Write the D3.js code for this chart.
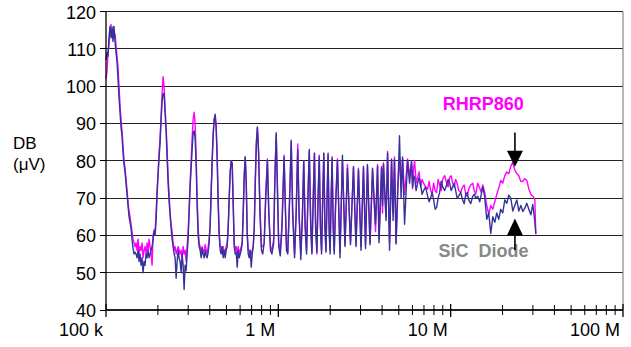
<!DOCTYPE html>
<html lang="en">

<head>
    <meta charset="utf-8">
    <title>EMI spectrum: RHRP860 vs SiC Diode</title>
    <script type="text/javascript" src="https://d3js.org/d3.v7.min.js"></script>

    <style type="text/css">
        body { margin: 0; background: #fff; }
        svg text { font-family: "Liberation Sans", Arial, sans-serif; }
    </style>
</head>

<body>
    <script type="text/javascript">
        // frequency of each sample, kHz (shared by both traces)
        var freqKHz = [
            100.0, 101.4, 102.7, 104.1, 105.5, 106.9, 108.4, 109.8, 111.3, 112.8,
            114.3, 115.9, 117.4, 119.0, 120.6, 122.2, 123.9, 125.6, 127.2, 129.0,
            130.7, 132.5, 134.2, 136.0, 137.9, 139.7, 141.6, 143.5, 145.5, 147.4,
            149.4, 151.4, 153.5, 155.5, 157.6, 159.7, 161.9, 164.1, 166.3, 168.5,
            170.8, 173.1, 175.4, 177.8, 180.2, 182.6, 185.1, 187.6, 190.1, 192.7,
            195.3, 197.9, 200.5, 203.3, 206.0, 208.8, 211.6, 214.4, 217.3, 220.2,
            223.2, 226.2, 229.3, 232.4, 235.5, 238.7, 241.9, 245.1, 248.4, 251.8,
            255.2, 258.6, 262.1,
            265.6, 269.2, 272.8, 276.5, 280.2, 284.0, 287.8, 291.7, 295.6, 299.6,
            303.6, 307.7, 311.9, 316.1, 320.3, 324.7, 329.0, 333.5, 338.0, 342.5,
            347.1, 351.8, 356.6, 361.4, 366.2, 371.2, 376.2, 381.2, 386.4, 391.6,
            396.8, 402.2, 407.6, 413.1, 418.7, 424.3, 430.0, 435.8, 441.7, 447.6,
            453.7, 459.8, 466.0, 472.3, 478.6, 485.1, 491.6, 498.2, 505.0, 511.8,
            518.7, 525.6, 532.7, 539.9, 547.2, 554.6, 562.0, 569.6, 577.3, 585.0,
            592.9, 600.9, 609.0, 617.2, 625.5, 634.0, 642.5, 651.2, 659.9, 668.8,
            677.9, 687.0, 696.2, 705.6, 715.1, 724.8,
            735, 745, 756, 768, 782, 798, 812, 828, 845, 864,
            880, 900, 918, 940, 955, 972, 990, 1005, 1026, 1050,
            1080, 1100, 1115, 1134, 1160, 1188, 1210, 1242, 1270, 1296,
            1320, 1350, 1380, 1404, 1430, 1458, 1485, 1512, 1540, 1566,
            1595, 1620, 1645, 1674, 1700, 1728, 1755, 1782, 1810, 1836,
            1863, 1890, 1918, 1944, 1971, 1998, 2025, 2052, 2080, 2110,
            2150, 2203, 2279, 2355, 2436, 2518, 2622, 2729, 2822, 2917,
            3018, 3119, 3206, 3289, 3404, 3521, 3664, 3764, 3840, 3971,
            4024, 4074, 4217, 4305, 4419, 4539, 4632, 4721, 4821, 4919,
            5047, 5155, 5260, 5402, 5623, 5775, 5929,
            6013, 6094, 6176, 6301, 6428, 6559, 6692, 6828, 6966, 7155,
            7349, 7499, 7651, 7806, 7965, 8126, 8290, 8458, 8630, 8806,
            8985, 9228, 9478, 9670, 9867, 10067, 10270, 10478, 10690, 10908,
            11130, 11431, 11740, 11983, 12230, 12478, 12730, 13075, 13430, 13703,
            13980, 14360, 14750, 15047, 15350,
            15760, 16190, 16630, 17090, 17550, 18030, 18510, 19010, 19530, 20060,
            20610, 21170, 21740, 22330, 22940, 23560, 24200, 24860, 25530, 26220,
            26930, 27660, 28410, 29180, 29970, 30780, 31200
        ];

        // SiC diode trace, dB(uV)
        var sicDb = [
            107, 109, 108, 113, 116, 113, 115.5, 112, 116, 112,
            109, 106.5, 102, 97, 93, 89, 86.5, 82, 79, 77,
            74, 71, 68, 65, 63.5, 62, 59, 56.5, 55, 55.5,
            55, 54, 56, 53, 55, 52, 54, 50, 53, 52,
            55, 54, 56, 54, 55, 56, 57, 59, 61, 60,
            64, 71, 76, 81, 85, 91, 96, 98, 98, 93,
            88, 81, 74, 69, 65.5, 62, 59, 57, 55, 54,
            48.5, 53, 56,
            54, 53, 50, 55, 52, 45.5, 52, 50.5, 55, 59,
            66, 73, 78, 83, 87.5, 88, 86, 79, 68, 60,
            57, 56, 54, 56.5, 55, 54, 56, 54.5, 54, 55.5,
            58, 63, 71, 80, 87, 91, 92.5, 89, 80, 68,
            60, 56, 55, 57, 54, 56, 54, 56, 57, 62,
            70, 77, 80, 79, 68, 57, 55, 55.5, 51.5, 56,
            54, 55, 56, 58, 66, 76, 81, 74, 60, 55,
            54, 56, 51.5, 55, 57, 62,
            74, 84, 89, 82, 66, 56, 55, 58, 70, 80,
            66, 56, 55, 58, 75, 87.5, 70, 57, 54.5, 62,
            81, 66, 56, 55, 68, 85.5, 66, 54, 66, 83,
            65, 53.5, 66, 80, 62, 55, 70, 83, 63, 55,
            70, 82, 62, 55.5, 70, 81, 62, 55, 70, 82,
            62, 55.5, 70, 82, 61, 55, 70, 81, 62, 55,
            68, 80, 54, 81.5, 57, 78, 57.5, 78.5, 57, 77.5,
            56, 78.5, 56.5, 79, 57.5, 78, 63, 78.5, 58, 78,
            68, 79, 64, 82, 56, 80.5, 64, 80.3, 57.7, 69.6,
            86.7, 70, 81, 63, 80, 74, 80,
            73, 76, 75.5, 72, 74, 75.5, 73.5, 71, 72, 73,
            70.5, 69, 70, 71.5, 69.5, 67, 67.5, 70, 71.5, 74.5,
            73, 72, 73.5, 75, 74, 72, 73, 74, 72, 70,
            70.5, 71.5, 69.5, 68.5, 71, 71.5, 69.5, 68.5, 70.5, 71,
            70, 70.5, 69, 71, 73,
            70.4, 64.3, 66, 60.5, 65, 63.5, 66, 64.3, 67, 66,
            69.5, 68.6, 70.8, 70, 66.5, 68, 69.5, 66.5, 68, 66.4,
            67.3, 68.6, 67, 65.5, 68.3, 63.8, 60.3
        ];

        // RHRP860 trace, dB(uV)
        var rhrpDb = [
            102, 104, 109, 111, 115, 116.5, 113, 116, 113, 114,
            111, 108, 105, 100, 95, 91, 88, 84, 80, 78,
            75, 72, 69, 66.5, 65, 63, 61, 59, 58, 57,
            58, 56, 59, 55, 57, 56, 58, 54, 56, 57,
            55, 58, 56, 59, 57, 55, 52, 60, 61.5, 61,
            66, 72, 77, 82, 86, 92, 98, 102.5, 100, 94,
            89, 83, 76, 71, 66, 63, 61, 58, 56, 57,
            55, 56, 57,
            56, 55, 56, 54, 57, 55, 56, 53, 57, 61,
            67, 74, 80, 86, 91, 93, 90, 81, 70, 62,
            58, 57, 56, 57, 55.5, 56, 57.5, 56, 55, 57,
            59, 63, 72, 80, 87, 91, 92, 89, 82, 70,
            61, 57, 57, 56, 57, 55, 56, 57, 58, 62,
            70, 77, 80, 79.5, 69, 58, 56, 57, 55, 57,
            55, 56, 57, 58, 66, 76, 81, 75, 61, 56,
            56, 55, 55, 56, 57, 62,
            75, 85, 89, 83, 68, 57, 57, 58, 71, 80.5,
            67, 57, 56, 59, 76, 87, 72, 58, 56, 63,
            81.5, 67, 57, 55.5, 69, 85, 68, 55, 67, 84.5,
            66, 55, 65, 80, 64, 56, 70, 82.5, 65, 55.5,
            71, 82, 64, 55, 70, 81.5, 63, 56, 71, 82,
            63, 56, 71, 81.5, 63, 56, 70, 80.5, 64, 56,
            69, 80.5, 55.5, 80, 57.5, 79, 58, 78, 57.5, 78,
            57, 78, 57.5, 78.5, 58, 77.5, 61, 79, 59, 78.5,
            66, 79.5, 65, 82.5, 58, 80, 66, 81, 58, 72,
            81, 73, 80.5, 71, 80.5, 76, 79.5,
            72.5, 78, 80, 74, 75.6, 77, 73, 75, 74, 73,
            72.4, 74.5, 72, 71, 74, 72, 71.5, 75, 73.5, 72,
            75, 76, 74, 73, 75.5, 76, 74, 73, 75, 74,
            72, 71.5, 73, 73.5, 71, 70.5, 72.4, 73.5, 74, 72,
            71, 74, 72.6, 71.5, 73.5,
            71.6, 68, 65.7, 68, 67, 69, 71, 72.6, 74.7, 74,
            76, 77, 76.5, 78.5, 79.6, 77.5, 76.6, 76, 74.4, 74.5,
            75.2, 74.7, 72.5, 71, 70.5, 69.7, 60.5
        ];

        var yTicks = [40, 50, 60, 70, 80, 90, 100, 110, 120];
        var xMajor = [100, 1000, 10000, 100000];
        var xMajorLabels = ["100 k", "1 M", "10 M", "100 M"];
        var xMinor = [200, 300, 400, 500, 600, 700, 800, 900,
            2000, 3000, 4000, 5000, 6000, 7000, 8000, 9000,
            20000, 30000, 40000, 50000, 60000, 70000, 80000, 90000];

        var width = 631, height = 347;
        var plotL = 106, plotR = 623, plotT = 11.5, plotB = 310;

        var x = d3.scaleLog().domain([100, 100000]).range([plotL, plotR]);
        var y = d3.scaleLinear().domain([40, 120]).range([plotB, plotT]);

        var svg = d3.select("body")
            .append("svg")
            .attr("width", width)
            .attr("height", height);

        // horizontal grid
        svg.append("g").selectAll("line")
            .data(yTicks.filter(function(d) { return d > 40; }))
            .enter().append("line")
            .attr("x1", plotL).attr("x2", plotR)
            .attr("y1", function(d) { return y(d); })
            .attr("y2", function(d) { return y(d); })
            .style("stroke", "#222")
            .style("stroke-width", 1)
            .style("shape-rendering", "crispEdges");

        // right border
        svg.append("line")
            .attr("x1", plotR).attr("x2", plotR)
            .attr("y1", plotT).attr("y2", plotB)
            .style("stroke", "#888")
            .style("stroke-width", 1.2);

        // traces
        var pts = d3.range(Math.min(freqKHz.length, sicDb.length, rhrpDb.length));
        var lineOf = function(arr) {
            return d3.line()
                .x(function(i) { return x(freqKHz[i]); })
                .y(function(i) { return y(arr[i]); })(pts);
        };

        svg.append("path")
            .attr("d", lineOf(rhrpDb))
            .style("fill", "none")
            .style("stroke", "#ff00ff")
            .style("stroke-width", 1.4)
            .style("stroke-linejoin", "round");

        svg.append("path")
            .attr("d", lineOf(sicDb))
            .style("fill", "none")
            .style("stroke", "#333399")
            .style("stroke-width", 1.4)
            .style("stroke-linejoin", "round");

        // y axis
        svg.append("line")
            .attr("x1", plotL).attr("x2", plotL)
            .attr("y1", plotT).attr("y2", plotB + 1)
            .style("stroke", "#000")
            .style("stroke-width", 1.3);

        var yt = svg.append("g").selectAll("g")
            .data(yTicks)
            .enter().append("g");
        yt.append("line")
            .attr("x1", plotL - 6).attr("x2", plotL)
            .attr("y1", function(d) { return y(d); })
            .attr("y2", function(d) { return y(d); })
            .style("stroke", "#000")
            .style("shape-rendering", "crispEdges");
        yt.append("text")
            .attr("x", plotL - 10)
            .attr("y", function(d) { return y(d) + 7; })
            .attr("text-anchor", "end")
            .attr("font-size", 18)
            .text(function(d) { return d; });

        // x axis
        svg.append("line")
            .attr("x1", plotL).attr("x2", plotR)
            .attr("y1", plotB).attr("y2", plotB)
            .style("stroke", "#222")
            .style("stroke-width", 1.8);

        svg.append("g").selectAll("line")
            .data(xMinor)
            .enter().append("line")
            .attr("x1", function(d) { return x(d); })
            .attr("x2", function(d) { return x(d); })
            .attr("y1", plotB - 5).attr("y2", plotB + 5)
            .style("stroke", "#000");

        svg.append("g").selectAll("line")
            .data(xMajor)
            .enter().append("line")
            .attr("x1", function(d) { return x(d); })
            .attr("x2", function(d) { return x(d); })
            .attr("y1", plotB - 6).attr("y2", plotB + 7)
            .style("stroke", "#000")
            .style("stroke-width", 1.3);

        svg.append("g").selectAll("text")
            .data(xMajor)
            .enter().append("text")
            .attr("x", function(d) { return x(d) - 3; })
            .attr("y", 336)
            .attr("text-anchor", "end")
            .attr("font-size", 18)
            .text(function(d, i) { return xMajorLabels[i]; });

        // y title
        svg.append("text").attr("x", 13).attr("y", 149)
            .attr("font-size", 17).text("DB");
        svg.append("text").attr("x", 13).attr("y", 170)
            .attr("font-size", 17).text("(\u03bcV)");

        // annotations
        svg.append("text")
            .attr("x", x(8985)).attr("y", y(93.6))
            .attr("font-size", 18).attr("font-weight", "bold")
            .style("fill", "#ff00ff")
            .text("RHRP860");

        svg.append("text")
            .attr("x", x(8500)).attr("y", y(54.2))
            .attr("font-size", 18).attr("font-weight", "bold")
            .style("fill", "#888")
            .style("white-space", "pre")
            .text("SiC  Diode");

        var ax = x(23600);
        // down arrow to RHRP860 trace
        svg.append("line")
            .attr("x1", ax).attr("x2", ax)
            .attr("y1", y(87.6)).attr("y2", y(82.5))
            .style("stroke", "#000").style("stroke-width", 1.6);
        svg.append("path")
            .attr("d", "M" + (ax - 8) + "," + y(82.7) + "L" + (ax + 8) + "," + y(82.7) +
                "L" + ax + "," + y(78.4) + "Z")
            .style("fill", "#000");
        // up arrow to SiC trace
        svg.append("line")
            .attr("x1", ax).attr("x2", ax)
            .attr("y1", y(60.2)).attr("y2", y(56))
            .style("stroke", "#000").style("stroke-width", 1.6);
        svg.append("path")
            .attr("d", "M" + (ax - 8) + "," + y(60) + "L" + (ax + 8) + "," + y(60) +
                "L" + ax + "," + y(64.5) + "Z")
            .style("fill", "#000");
    </script>
</body>

</html>
